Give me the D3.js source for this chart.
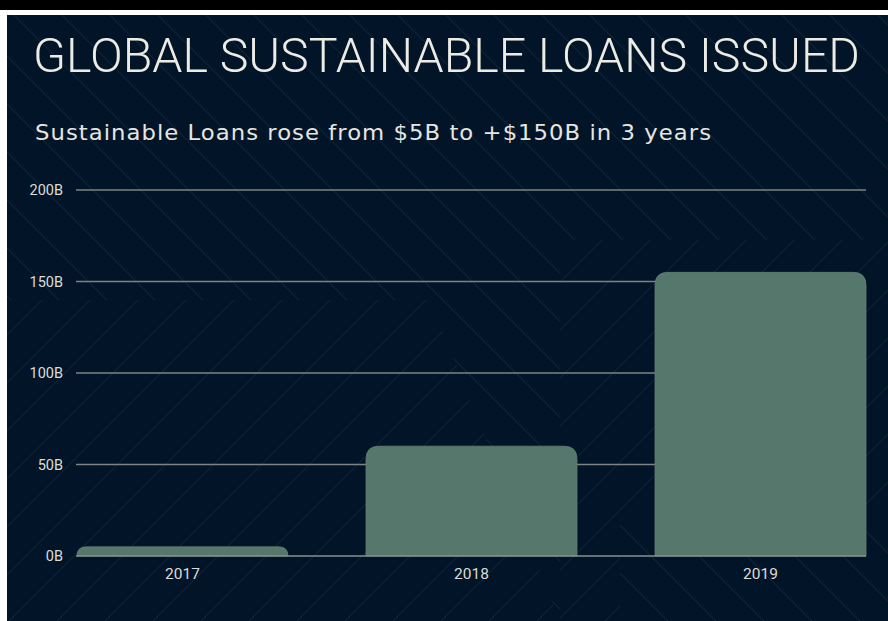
<!DOCTYPE html>
<html><head><meta charset="utf-8">
<script src="https://cdn.jsdelivr.net/npm/d3@7"></script>
<style>html,body{margin:0;padding:0;background:#fff;overflow:hidden}svg{display:block}</style>
</head><body><script>
// Sustainable loans issued worldwide, billions USD
const years = ["2017", "2018", "2019"];
const loans = [5, 60, 155];
const yTicks = [0, 50, 100, 150, 200];
const title = "GLOBAL SUSTAINABLE LOANS ISSUED";
const subtitle = "Sustainable Loans rose from $5B to +$150B in 3 years";

const W = 888, H = 621;
const svg = d3.select("body").append("svg").attr("width", W).attr("height", H);

// frame: white page, black band on top, navy panel
svg.append("rect").attr("width", W).attr("height", H).attr("fill", "#ffffff");
svg.append("rect").attr("width", W).attr("height", 10).attr("fill", "#000000");
const panelX = 7, panelY = 15;
svg.append("rect").attr("x", panelX).attr("y", panelY)
  .attr("width", W - panelX).attr("height", H - panelY).attr("fill", "#021427");

// faint herringbone texture
const defs = svg.append("defs");
defs.append("clipPath").attr("id", "zoneA").append("polygon")
  .attr("points", [[panelX, panelY], [W, panelY], [W, 240], [560, 240], [560, 621], [W, 621], [W, 520], [620, 520], [620, 621], [560, 621], [430, 300], [panelX, 300]].map(p => p.join(",")).join(" "));
defs.append("clipPath").attr("id", "zoneB").append("polygon")
  .attr("points", [[panelX, 300], [430, 300], [560, 621], [panelX, 621]].map(p => p.join(",")).join(" ") );
defs.append("clipPath").attr("id", "zoneC").append("polygon")
  .attr("points", [[560, 240], [W, 240], [W, 520], [620, 520], [620, 621], [560, 621]].map(p => p.join(",")).join(" "));

const texture = svg.append("g").attr("stroke", "#3e2c35").attr("stroke-opacity", 0.6).attr("stroke-width", 1);
const spacing = 48;
function lines(clip, dir, offset) {
  const g = texture.append("g").attr("clip-path", `url(#${clip})`);
  for (let c = -H - 100 + offset; c < W + H + 100; c += spacing) {
    if (dir > 0) g.append("line").attr("x1", c).attr("y1", 0).attr("x2", c + H).attr("y2", H);
    else g.append("line").attr("x1", c).attr("y1", H).attr("x2", c + H).attr("y2", 0);
  }
}
lines("zoneA", 1, 0);
lines("zoneB", -1, 10);
lines("zoneC", -1, 30);

// titles
svg.append("text").attr("x", 33).attr("y", 72)
  .attr("font-family", "Roboto, 'Liberation Sans', sans-serif").attr("font-weight", 300)
  .attr("font-size", 48).attr("fill", "#ecebe4")
  .attr("textLength", 827).attr("lengthAdjust", "spacingAndGlyphs")
  .text(title);
svg.append("text").attr("x", 35).attr("y", 140)
  .attr("font-family", "'DejaVu Sans', sans-serif")
  .attr("font-size", 22).attr("fill", "#e6e6e0").attr("letter-spacing", 1)
  .attr("textLength", 677).attr("lengthAdjust", "spacingAndGlyphs")
  .text(subtitle);

// scales
const x = d3.scaleBand().domain(years).range([77, 866]).paddingInner(0.27).paddingOuter(0);
const y = d3.scaleLinear().domain([0, 200]).range([556, 190]);

// gridlines
svg.append("g").selectAll("line").data(yTicks.filter(d => d > 0)).join("line")
  .attr("x1", 76).attr("x2", 866)
  .attr("y1", d => y(d)).attr("y2", d => y(d))
  .attr("stroke", "#7f8383").attr("stroke-width", 1.5);

// bars with rounded top corners
function topRounded(x0, y0, w, h, r) {
  r = Math.min(r, h, w / 2);
  return `M${x0},${y0 + h}V${y0 + r}Q${x0},${y0} ${x0 + r},${y0}H${x0 + w - r}Q${x0 + w},${y0} ${x0 + w},${y0 + r}V${y0 + h}Z`;
}
svg.append("g").selectAll("path").data(years).join("path")
  .attr("d", (d, i) => topRounded(x(d), y(loans[i]), x.bandwidth(), y(0) - y(loans[i]), 13))
  .attr("fill", "#56776b").attr("stroke", "#5f8275").attr("stroke-width", 0.8);

// baseline
svg.append("line").attr("x1", 76).attr("x2", 866).attr("y1", y(0)).attr("y2", y(0))
  .attr("stroke", "#8a8f8d").attr("stroke-width", 1.5);

// axes
const yAxis = svg.append("g").attr("transform", "translate(76,0)")
  .call(d3.axisLeft(y).tickValues(yTicks).tickFormat(d => d + "B").tickSize(0).tickPadding(13));
const xAxis = svg.append("g").attr("transform", `translate(0,${y(0)})`)
  .call(d3.axisBottom(x).tickSize(0).tickPadding(12));
[yAxis, xAxis].forEach(a => {
  a.select(".domain").remove();
  a.selectAll("text").attr("fill", "#dcdcd6")
    .attr("font-family", "Roboto, 'Liberation Sans', sans-serif").attr("font-weight", 400);
});
yAxis.selectAll("text").attr("font-size", 14.5);
xAxis.selectAll("text").attr("font-size", 15.5);
</script></body></html>
